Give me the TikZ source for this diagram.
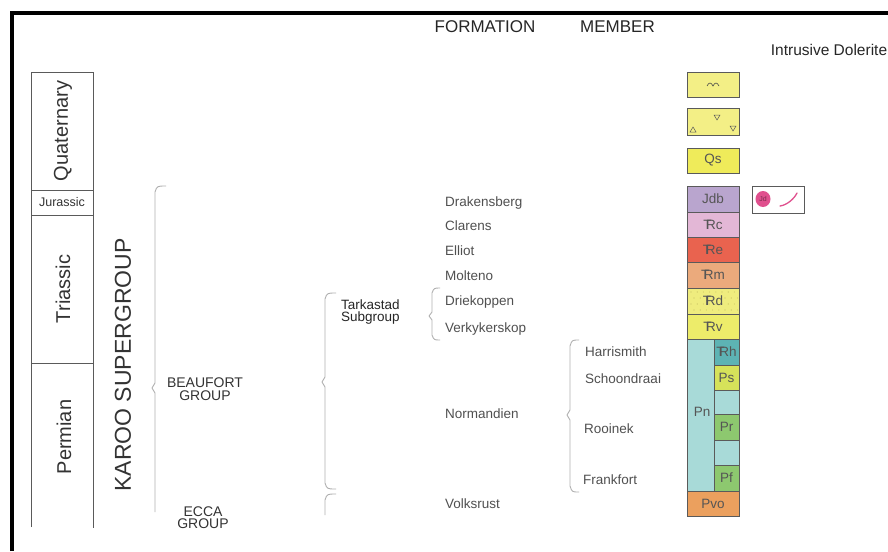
\documentclass[tikz,border=0pt]{standalone}
\usepackage{fontspec}
\setmainfont{Liberation Sans}
\definecolor{boxgray}{HTML}{5A5A5A}
\definecolor{labgray}{HTML}{555555}
\definecolor{bracegray}{HTML}{B0B0B0}
\definecolor{formgray}{HTML}{505050}
\definecolor{cQa}{HTML}{F3EF86}
\definecolor{cQs}{HTML}{EFEB5A}
\definecolor{cJdb}{HTML}{B9A5CE}
\definecolor{cTrc}{HTML}{E3B7D6}
\definecolor{cTre}{HTML}{E9634F}
\definecolor{cTrm}{HTML}{EBAA7C}
\definecolor{cTrd}{HTML}{EFEC7E}
\definecolor{cTrv}{HTML}{EDEC6A}
\definecolor{cPn}{HTML}{A8DAD8}
\definecolor{cTrh}{HTML}{5DB3B4}
\definecolor{cPs}{HTML}{D6E25A}
\definecolor{cPr}{HTML}{8DC86F}
\definecolor{cPvo}{HTML}{EBA05E}
\definecolor{cJd}{HTML}{E0508E}
\definecolor{cDot}{HTML}{C8C060}
\newcommand{\Trs}{T\kern-0.40em R}
\newcommand{\fs}[1]{\fontsize{#1}{#1}\selectfont}
\begin{document}
\begin{tikzpicture}[x=1pt,y=-1pt,
  periodline/.style={draw=boxgray,line width=1pt},
  bracest/.style={draw=bracegray,line width=0.9pt,line join=round},
  unitbox/.style={draw=boxgray,line width=0.8pt},
  unitlab/.style={inner sep=0pt,text=labgray,font=\fs{13.5}},
  formname/.style={anchor=west,inner sep=0pt,text=formgray,font=\fs{13.5},text height=9.5pt,text depth=3pt},
  header/.style={inner sep=0pt,text=black!85,font=\fs{17}},
  period/.style={inner sep=0pt,rotate=90,text=black!80,font=\fs{20}},
  group/.style={inner sep=0pt,align=center,text=black!80,font=\fs{14}}]
\useasboundingbox (0,0) rectangle (888,551);
\fill[white] (0,0) rectangle (888,551);
% frame
\draw[line width=4.5pt] (12,551) -- (12,13) -- (888,13);

% period column
\draw[periodline] (31,527) -- (31,72) -- (93,72) -- (93,528);
\draw[periodline] (31,190) -- (93,190);
\draw[periodline] (31,215) -- (93,215);
\draw[periodline] (31,363) -- (93,363);
\node[period] (quat) at (63,131) {Quaternary};
\node[inner sep=0pt,text=black!80,font=\fs{12.5}] (jur) at (62,202.5) {Jurassic};
\node[period] (tri) at (63,289) {Triassic};
\node[period] (perm) at (64,437) {Permian};
\node[period,font=\fs{23}] (karoo) at (123,365) {KAROO SUPERGROUP};

% braces
\draw[bracest] (166,186) .. controls (157,186) .. (155,192) -- (155,383) -- (152,388) -- (155,393) -- (155,512);
\draw[bracest] (336,293) .. controls (327,293) .. (325,299) -- (325,377) -- (322,382) -- (325,387) -- (325,483) .. controls (327,489) .. (336,489);
\draw[bracest] (336,494) .. controls (327,494) .. (325,500) -- (325,515);
\draw[bracest] (440,288) .. controls (434,288) .. (432,293) -- (432,312) -- (429,316) -- (432,320) -- (432,335) .. controls (434,340) .. (440,340);
\draw[bracest] (579,340) .. controls (572,340) .. (570,346) -- (570,410) -- (567,415) -- (570,420) -- (570,486) .. controls (572,492) .. (579,492);

% group texts
\node[group] (beau) at (205,389) {BEAUFORT\\[-1.5pt]GROUP};
\node[group] (ecca) at (203,517.5) {ECCA\\[-1.5pt]GROUP};
\node[inner sep=0pt,align=left,anchor=west,text=black!85,font=\fs{13.5}] (tark) at (341,312.5) {Tarkastad\\[-1.5pt]Subgroup};

% headers
\node[header] (hform) at (485,27) {FORMATION};
\node[header] (hmem) at (617.5,27) {MEMBER};
\node[inner sep=0pt,font=\fs{15.5},text=black!85] (hdol) at (829,50) {Intrusive Dolerite};

% formation names
\node[formname] (drak) at (445,203) {Drakensberg};
\node[formname] (clar) at (445,227) {Clarens};
\node[formname] (elli) at (445,252) {Elliot};
\node[formname] (molt) at (445,277) {Molteno};
\node[formname] (drie) at (445,302) {Driekoppen};
\node[formname] (verk) at (445,329) {Verkykerskop};
\node[formname] (norm) at (445,415) {Normandien};
\node[formname] (volk) at (445,505) {Volksrust};

% members
\node[formname] (harr) at (585,353) {Harrismith};
\node[formname] (scho) at (585,380) {Schoondraai};
\node[formname] (rooi) at (584,430) {Rooinek};
\node[formname] (fran) at (583,481) {Frankfort};

% Quaternary units
\draw[unitbox,fill=cQa] (687,72) rectangle (739,97);
\draw[boxgray!80!black,line width=0.6pt] (707,86) .. controls (709,82) and (711,82) .. (713,86) .. controls (715,82) and (717,82) .. (719,86);
\draw[unitbox,fill=cQa] (687,108) rectangle (739,135);
\draw[boxgray,line width=0.5pt] (690,132) -- (693,127) -- (696,132) -- cycle;
\draw[boxgray,line width=0.5pt] (714,115) -- (720,115) -- (717,120) -- cycle;
\draw[boxgray,line width=0.5pt] (730,126) -- (736,126) -- (733,131) -- cycle;
\draw[unitbox,fill=cQs] (687,148) rectangle (739,173);
\node[unitlab] (qs) at (713,160.5) {Qs};

% main column
\draw[unitbox,fill=cJdb] (687,186) rectangle (739,212);
\node[unitlab] (jdb) at (713,199) {Jdb};
\draw[unitbox,fill=cTrc] (687,212) rectangle (739,237);
\node[unitlab] (trc) at (713,224.5) {\Trs c};
\draw[unitbox,fill=cTre] (687,237) rectangle (739,262);
\node[unitlab] (tre) at (713,249.5) {\Trs e};
\draw[unitbox,fill=cTrm] (687,262) rectangle (739,288);
\node[unitlab] (trm) at (713,275) {\Trs m};
\draw[unitbox,fill=cTrd] (687,288) rectangle (739,314);
\foreach \i in {0,...,7}{
  \foreach \j in {0,...,3}{
    \fill[cDot] ({691+6.2*\i+mod(\j,2)*3},{292+6*\j}) circle (0.55pt);
  }
}
\draw[unitbox] (687,288) rectangle (739,314);
\node[unitlab] (trd) at (713,301) {\Trs d};
\draw[unitbox,fill=cTrv] (687,314) rectangle (739,339);
\node[unitlab] (trv) at (713,326.5) {\Trs v};
\draw[unitbox,fill=cPn] (687,339) rectangle (714,491);
\node[unitlab] (pn) at (702,412) {Pn};
\draw[unitbox,fill=cTrh] (714,339) rectangle (739,365);
\node[unitlab] (trh) at (726.5,352) {\Trs h};
\draw[unitbox,fill=cPs] (714,365) rectangle (739,390);
\node[unitlab] (ps) at (726.5,377.5) {Ps};
\draw[unitbox,fill=cPn] (714,390) rectangle (739,414);
\draw[unitbox,fill=cPr] (714,414) rectangle (739,440);
\node[unitlab] (pr) at (726.5,427) {Pr};
\draw[unitbox,fill=cPn] (714,440) rectangle (739,465);
\draw[unitbox,fill=cPr] (714,465) rectangle (739,491);
\node[unitlab] (pf) at (726.5,478) {Pf};
\draw[unitbox,fill=cPvo] (687,491) rectangle (739,516);
\node[unitlab] (pvo) at (713,503.5) {Pvo};

% dolerite
\draw[unitbox] (752,186) rectangle (804,213);
\fill[cJd] (763,199) ellipse [x radius=7.5pt,y radius=8pt];
\node[inner sep=0pt,font=\fs{7},text=cJd!55!black] (jd) at (763,199) {Jd};
\draw[cJd,line width=1.3pt,line cap=round] (780,206) .. controls (787,205) and (794,199) .. (797,193);
\end{tikzpicture}
\end{document}
